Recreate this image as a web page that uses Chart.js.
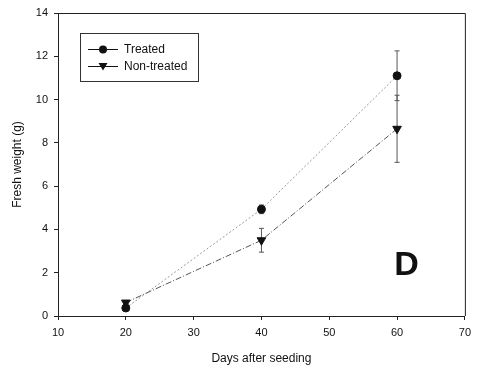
<!DOCTYPE html>
<html>
<head>
<meta charset="utf-8">
<script src="https://cdn.jsdelivr.net/npm/chart.js@4/dist/chart.umd.min.js"></script>
<style>
  html, body { margin: 0; padding: 0; background: #fff; }
  #wrap { width: 477px; height: 370px; }
</style>
</head>
<body>
<div id="wrap"><canvas id="weightChart" width="477" height="370"></canvas></div>
<script>
// Fresh weight vs days after seeding (panel D)
const days = [20, 40, 60];
const treated = [0.37, 4.93, 11.1];
const treatedErr = [0.1, 0.2, 1.15];
const nonTreated = [0.62, 3.5, 8.65];
const nonTreatedErr = [0.1, 0.55, 1.55];
const panelLabel = 'D';
const panelPos = { x: 61.4, y: 2.35 };

const fontFamily = '"Liberation Sans", Arial, sans-serif';

// error bars drawn under the markers, through the chart scales
const errorBars = {
    id: 'errorBars',
    beforeDatasetsDraw(chart) {
        const ctx = chart.ctx;
        const xs = chart.scales.x, ys = chart.scales.y;
        chart.data.datasets.forEach(ds => {
            if (!ds.errors) return;
            ctx.save();
            ctx.strokeStyle = ds.errorColor;
            ctx.lineWidth = 1;
            ds.data.forEach((p, i) => {
                const x = xs.getPixelForValue(p.x);
                const top = ys.getPixelForValue(p.y + ds.errors[i]);
                const bot = ys.getPixelForValue(p.y - ds.errors[i]);
                ctx.beginPath();
                ctx.moveTo(x, top); ctx.lineTo(x, bot);
                ctx.moveTo(x - 2.5, top); ctx.lineTo(x + 2.5, top);
                ctx.moveTo(x - 2.5, bot); ctx.lineTo(x + 2.5, bot);
                ctx.stroke();
            });
            ctx.restore();
        });
    }
};

// frame, inset legend and the panel letter
const decorations = {
    id: 'decorations',
    afterDraw(chart) {
        const ctx = chart.ctx;
        const a = chart.chartArea;
        ctx.save();
        ctx.strokeStyle = '#222';
        ctx.lineWidth = 1;
        ctx.beginPath();
        ctx.moveTo(a.left, a.top + 0.5);
        ctx.lineTo(a.right + 0.5, a.top + 0.5);
        ctx.lineTo(a.right + 0.5, a.bottom);
        ctx.stroke();

        // legend box
        ctx.strokeStyle = '#333';
        ctx.strokeRect(80.5, 33.5, 118, 48);
        ctx.font = '12px ' + fontFamily;
        ctx.fillStyle = '#111';
        ctx.textBaseline = 'middle';
        chart.data.datasets.forEach((ds, i) => {
            const y = 49 + i * 17;
            ctx.strokeStyle = '#111';
            ctx.beginPath();
            ctx.moveTo(88, y + 0.5); ctx.lineTo(118, y + 0.5);
            ctx.stroke();
            ctx.beginPath();
            if (ds.pointStyle === 'circle') {
                ctx.arc(103, y + 0.5, 4, 0, Math.PI * 2);
            } else {
                ctx.moveTo(98.5, y - 3); ctx.lineTo(107.5, y - 3); ctx.lineTo(103, y + 4.5);
                ctx.closePath();
            }
            ctx.fill();
            ctx.fillText(ds.label, 124, y + 1);
        });

        // panel letter
        ctx.font = 'bold 34px ' + fontFamily;
        ctx.textAlign = 'center';
        ctx.textBaseline = 'middle';
        ctx.fillText(panelLabel, chart.scales.x.getPixelForValue(panelPos.x), chart.scales.y.getPixelForValue(panelPos.y));
        ctx.restore();
    }
};

const weightCtx = document.getElementById('weightChart').getContext('2d');
const weightChart = new Chart(weightCtx, {
    type: 'line',
    data: {
        datasets: [
            {
                label: 'Treated',
                data: days.map((d, i) => ({ x: d, y: treated[i] })),
                errors: treatedErr,
                errorColor: '#555',
                borderColor: '#9a9a9a',
                borderDash: [2, 2],
                borderWidth: 1,
                pointStyle: 'circle',
                pointRadius: 4,
                pointBackgroundColor: '#111',
                pointBorderColor: '#111',
                tension: 0
            },
            {
                label: 'Non-treated',
                data: days.map((d, i) => ({ x: d, y: nonTreated[i] })),
                errors: nonTreatedErr,
                errorColor: '#555',
                borderColor: '#555',
                borderDash: [6, 2, 1, 2],
                borderWidth: 1,
                pointStyle: 'triangle',
                pointRotation: 180,
                pointRadius: 5,
                pointBackgroundColor: '#111',
                pointBorderColor: '#111',
                tension: 0
            }
        ]
    },
    options: {
        responsive: false,
        animation: false,
        layout: { padding: { top: 13, right: 9, left: 0, bottom: 0 } },
        plugins: {
            legend: { display: false },
            tooltip: { enabled: false }
        },
        scales: {
            x: {
                type: 'linear',
                min: 10,
                max: 70,
                ticks: { stepSize: 10, color: '#111', padding: 6, font: { family: fontFamily, size: 11 } },
                grid: { drawOnChartArea: false, drawTicks: true, tickLength: 4, color: '#222' },
                border: { color: '#222', width: 1 },
                title: { display: true, text: 'Days after seeding', color: '#111', padding: { top: 14 }, font: { family: fontFamily, size: 12 } },
                afterFit(scale) { scale.height = 54; }
            },
            y: {
                min: 0,
                max: 14,
                ticks: { stepSize: 2, color: '#111', padding: 6, font: { family: fontFamily, size: 11 } },
                grid: { drawOnChartArea: false, drawTicks: true, tickLength: 4, color: '#222' },
                border: { color: '#222', width: 1 },
                title: { display: true, text: 'Fresh weight (g)', color: '#111', padding: { top: 10, bottom: 6 }, font: { family: fontFamily, size: 12 } },
                afterFit(scale) { scale.width = 58; }
            }
        }
    },
    plugins: [errorBars, decorations]
});
</script>
</body>
</html>
